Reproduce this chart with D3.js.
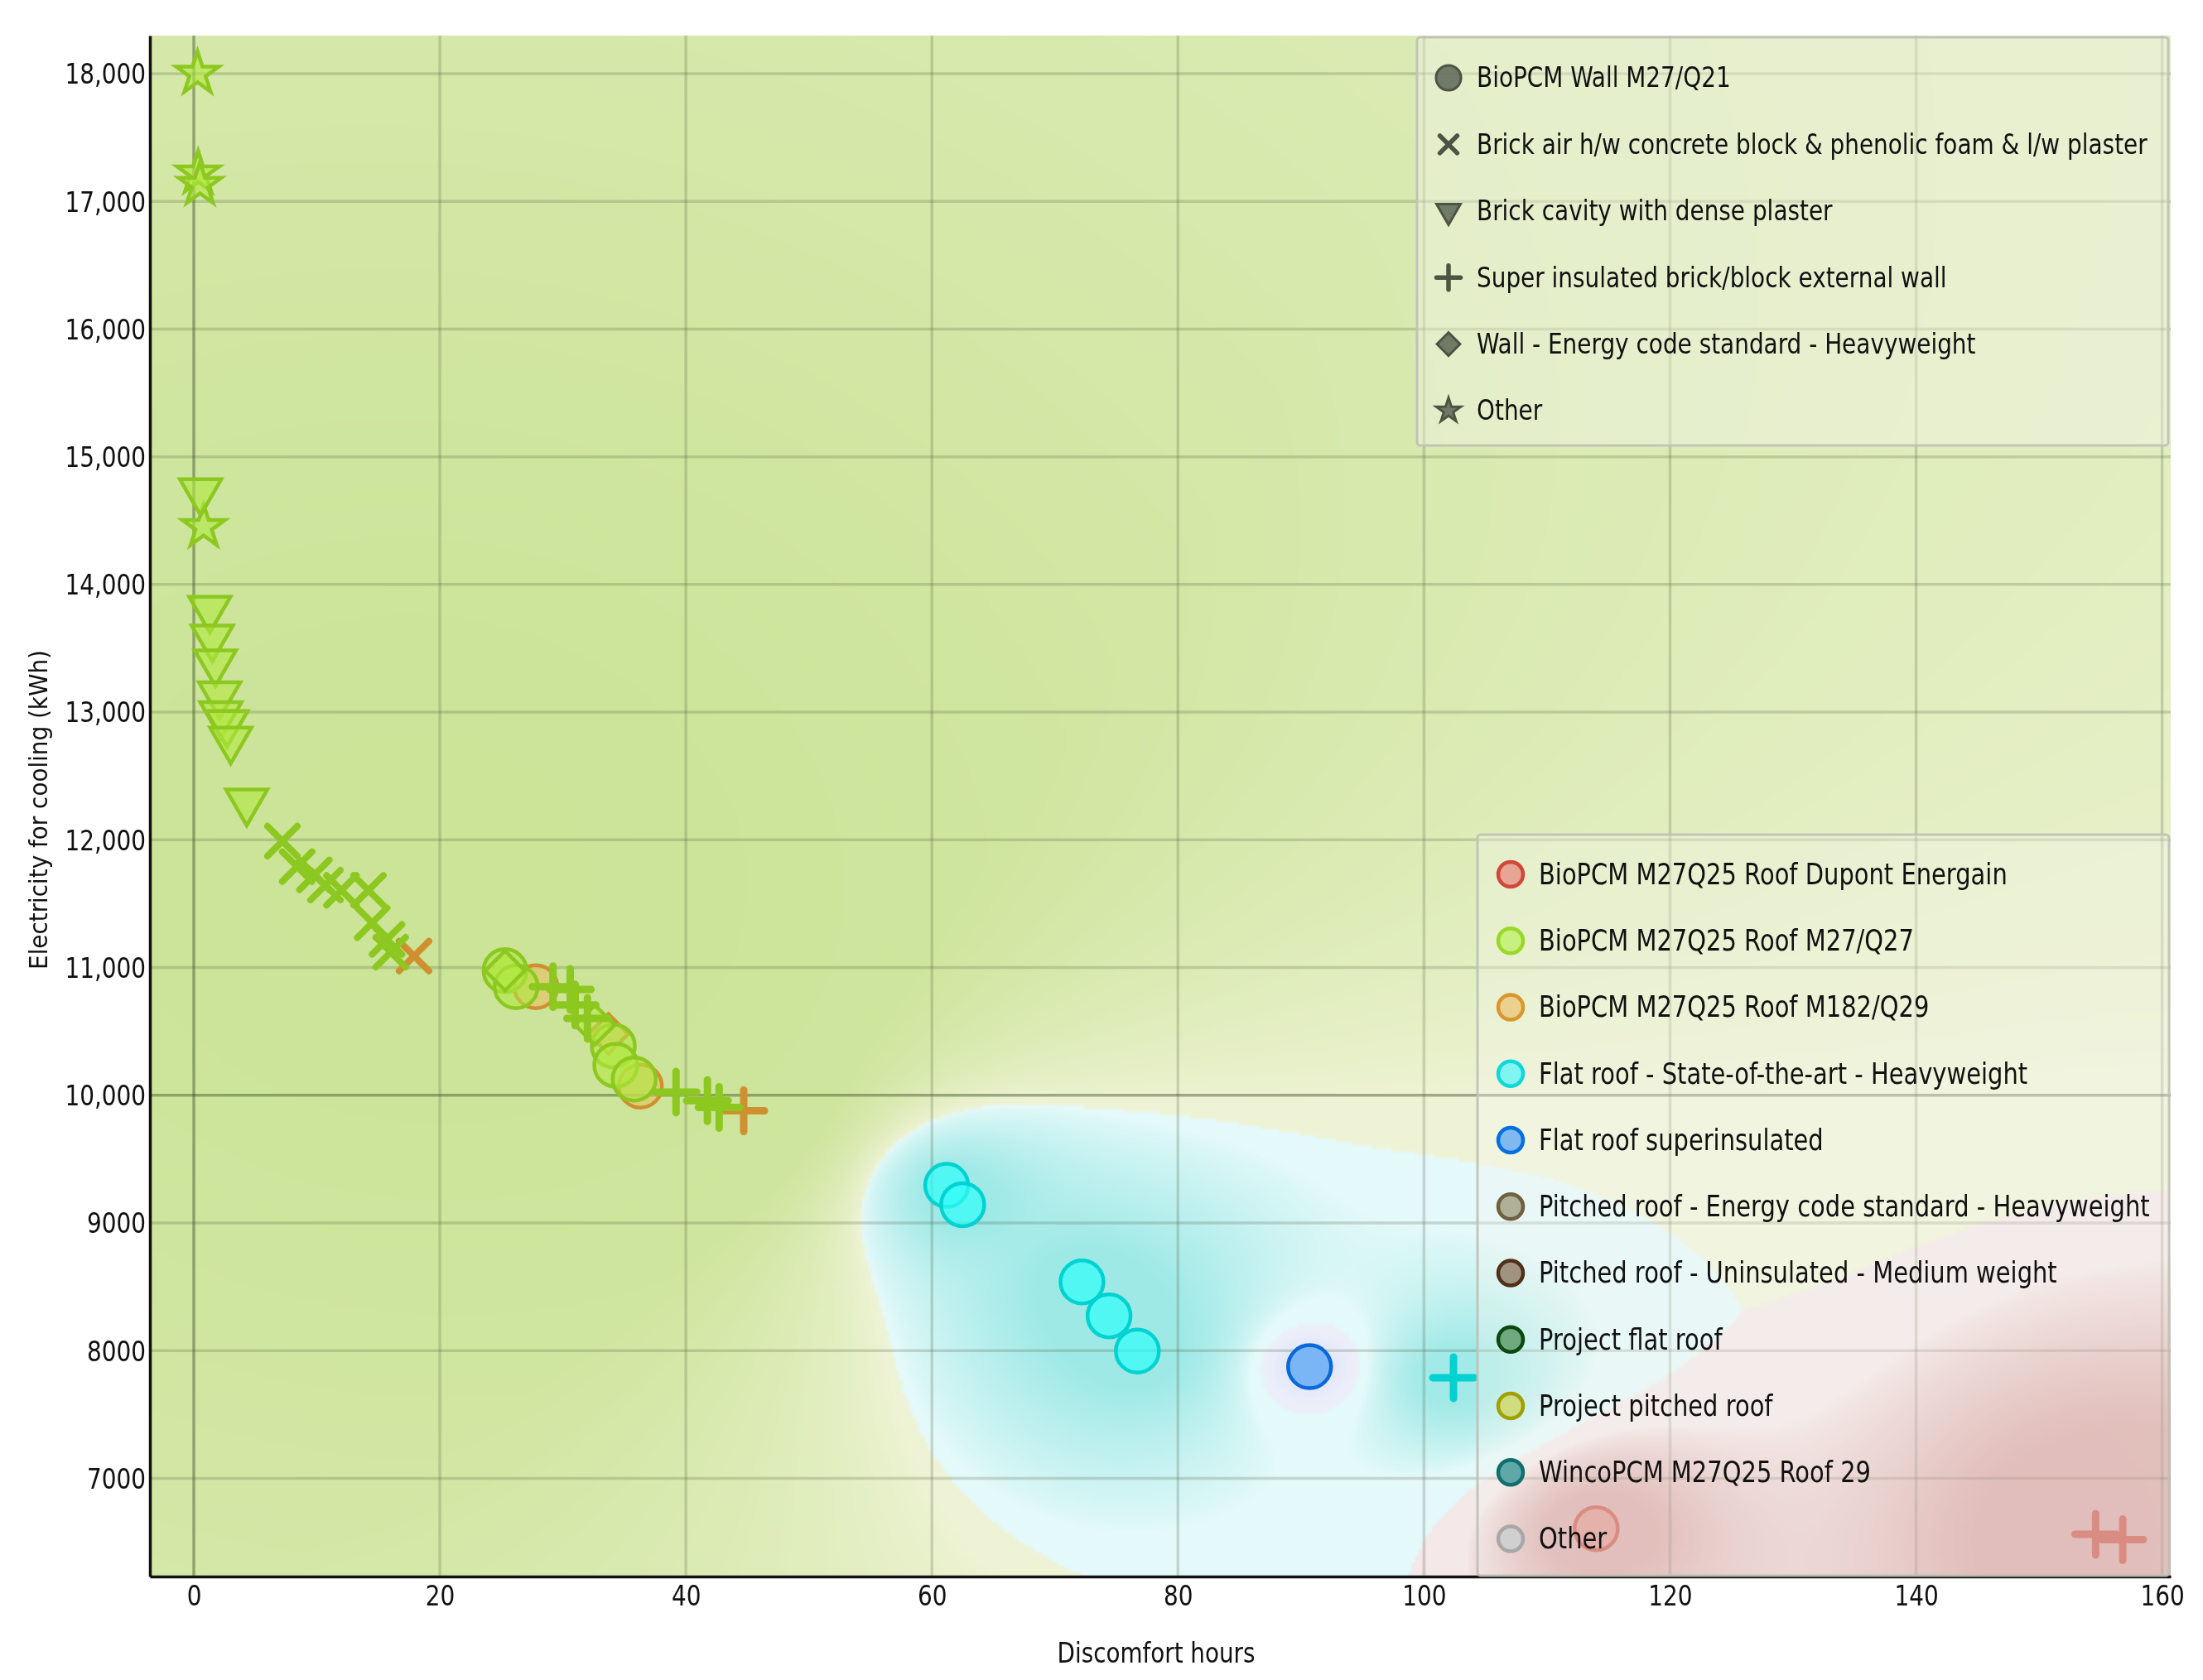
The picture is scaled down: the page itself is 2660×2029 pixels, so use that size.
<!DOCTYPE html>
<html><head><meta charset="utf-8">
<script src="https://cdn.jsdelivr.net/npm/d3@7"></script>
<style>
html,body{margin:0;padding:0;background:#fff;}
#wrap{position:relative;width:2660px;height:2029px;overflow:hidden;}
#bg{position:absolute;}
#chart{position:absolute;left:0;top:0;}
</style></head>
<body><div id="wrap"><canvas id="bg"></canvas><svg id="chart" width="2660" height="2029"></svg></div>
<script>
// ---------------- DATA ----------------
const wallNames = ["BioPCM Wall M27/Q21","Brick air h/w concrete block & phenolic foam & l/w plaster","Brick cavity with dense plaster","Super insulated brick/block external wall","Wall - Energy code standard - Heavyweight","Other"];
const roofNames = ["BioPCM M27Q25 Roof Dupont Energain","BioPCM M27Q25 Roof M27/Q27","BioPCM M27Q25 Roof M182/Q29","Flat roof - State-of-the-art - Heavyweight","Flat roof superinsulated","Pitched roof - Energy code standard - Heavyweight","Pitched roof - Uninsulated - Medium weight","Project flat roof","Project pitched roof","WincoPCM M27Q25 Roof 29","Other"];

const discomfortHours = [0.3,0.35,0.5,0.8, 0.55,1.3,1.5,1.75,2.1,2.2,2.7,3.0,4.3, 7.2,8.4,9.8,10.7,12.0,14.2,14.5,15.7,16.0,17.9, 25.3,26.2,27.8,34.1,34.3,35.8,36.3, 25.3,32.6,33.7, 29.2,30.6,31.0,32.0,39.2,41.75,42.7,44.7, 61.2,62.5,72.2,74.4,76.7, 90.7, 102.4, 114.0, 154.6,156.8];
const coolingKWh = [18000,17220,17130,14450, 14730,13810,13585,13390,13140,12985,12915,12785,12300, 11990,11790,11725,11645,11605,11605,11350,11220,11120,11090, 10975,10850,10850,10386,10235,10127,10072, 10975,10550,10480, 10850,10829,10706,10602,10025,9958,9904,9878, 9294,9143,8537,8272,7997, 7874, 7788, 6606, 6562,6519];
const wallType = [5,5,5,5, 2,2,2,2,2,2,2,2,2, 1,1,1,1,1,1,1,1,1,1, 0,0,0,0,0,0,0, 4,4,4, 3,3,3,3,3,3,3,3, 0,0,0,0,0, 0, 3, 0, 3,3];
const roofType = [1,1,1,1, 1,1,1,1,1,1,1,1,1, 1,1,1,1,1,1,1,1,1,2, 1,1,2,1,1,1,2, 1,1,2, 1,1,1,1,1,1,1,2, 3,3,3,3,3, 4, 3, 0, 0,0];

const xTicks = [0,20,40,60,80,100,120,140,160];
const yTicks = [7000,8000,9000,10000,11000,12000,13000,14000,15000,16000,17000,18000];
const xDomain = [-3.57,160.7];
const yDomain = [6231,18298];

// ---------------- STYLE ----------------
const roofStroke = ["#cc5c4e","#8cc820","#d09030","#00d2d2","#0a68d8","#706040","#503018","#0a4a10","#a0a000","#106e6e","#a8a8a8"];
const roofFill   = ["rgba(228,132,120,0.55)","rgba(176,232,64,0.6)","rgba(232,192,96,0.6)","rgba(48,252,248,0.7)","rgba(122,182,246,1)","#b0b098","#a09480","#70a880","#d0dc80","#60a8a8","#d0d0d0"];
const legStroke = ["#d0483a","#98d828","#d8982c","#10d8d8","#0070e0","#706040","#503018","#0a4a10","#a0a000","#106e6e","#a8a8a8"];
const legFill   = ["#e8a494","#c8f080","#ecd090","#80f4f0","#80b8f0","#b0b098","#a09480","#70a880","#d0dc80","#60a8a8","#d0d0d0"];
// background class per roof type: 0 green, 1 cyan, 2 blue, 3 red
const bgClassOfRoof = [3,0,0,1,2,0,0,0,0,0,0];
const bgWeight = [1,1,0.55,1.15];
const bgStrong = [[203,228,152],[158,233,230],[218,224,248],[216,164,162]];
const bgPale   = [[239,243,214],[228,249,249],[236,239,250],[244,232,232]];

const M = {left:181, right:2621, top:43, bottom:1904};
const x = d3.scaleLinear().domain(xDomain).range([M.left, M.right]);
const y = d3.scaleLinear().domain(yDomain).range([M.bottom, M.top]);

const pts = discomfortHours.map((h,i)=>({h, e:coolingKWh[i], wall:wallType[i], roof:roofType[i], i}));

// ---------------- BACKGROUND ----------------
(function(){
  const pw = M.right-M.left, ph = M.bottom-M.top, cell = 4;
  const cw = Math.ceil(pw/cell), chh = Math.ceil(ph/cell);
  const c = document.getElementById("bg");
  c.width = pw; c.height = ph; c.style.left = M.left+"px"; c.style.top = M.top+"px";
  const off = document.createElement("canvas"); off.width = cw; off.height = chh;
  const octx = off.getContext("2d");
  const img = octx.createImageData(cw, chh);
  const P = pts.map(p=>({u:(x(p.h)-M.left)/pw, v:(y(p.e)-M.top)/ph, k:bgClassOfRoof[p.roof]}));
  const sig2 = 2*0.45*0.45;
  const dens = (u,v,k)=>{ let D=0; for(const q of P){ if(q.k!==k) continue; const du=u-q.u, dv=v-q.v; D+=Math.exp(-(du*du+dv*dv)/sig2);} return D; };
  const Dmax=[0,0,0,0];
  for(const q of P){ Dmax[q.k]=Math.max(Dmax[q.k], dens(q.u,q.v,q.k)); }
  for (let j=0;j<chh;j++){
    const v = (j+0.5)*cell/ph;
    for (let i=0;i<cw;i++){
      const u = (i+0.5)*cell/pw;
      const Wk=[0,0,0,0];
      for (const q of P){
        const du=u-q.u, dv=v-q.v;
        Wk[q.k] += bgWeight[q.k]/(du*du+dv*dv+0.0003);
      }
      const tot=Wk[0]+Wk[1]+Wk[2]+Wk[3];
      let kb=0; for(let k=1;k<4;k++) if(Wk[k]>Wk[kb]) kb=k;
      const s=Wk[kb]/tot;
      const sf=Math.pow(Math.max(0,Math.min(1,(s-0.5)/0.35)),0.7);
      const df=0.4+0.6*Math.min(1,dens(u,v,kb)/Dmax[kb]);
      const t=sf*df;
      const idx=(j*cw+i)*4;
      for(let c2=0;c2<3;c2++) img.data[idx+c2]=bgPale[kb][c2]+(bgStrong[kb][c2]-bgPale[kb][c2])*t;
      img.data[idx+3]=255;
    }
  }
  octx.putImageData(img,0,0);
  const ctx=c.getContext("2d");
  ctx.imageSmoothingEnabled=true;
  ctx.drawImage(off,0,0,cw*cell,chh*cell);
})();

// ---------------- SVG ----------------
const svg = d3.select("#chart");
const COND = "'DejaVu Sans Condensed','DejaVu Sans',sans-serif";
const SANS = "'DejaVu Sans',Verdana,sans-serif";

function measure(str, fam, size){
  const t = svg.append("text").attr("font-family",fam).attr("font-size",size).text(str);
  const w = t.node().getComputedTextLength(); t.remove(); return w;
}
const kTick = 97.6/measure("18,000",COND,33);
const kLeg1 = 810/measure("Brick air h/w concrete block & phenolic foam & l/w plaster",COND,33);
const kLeg2 = 738/measure("Pitched roof - Energy code standard - Heavyweight",SANS,35);
const kXT = 239/measure("Discomfort hours",COND,33);
const kYT = 386/measure("Electricity for cooling (kWh)",COND,31);

function txt(g, str, x0, y0, fam, size, k, anchor, rot){
  return g.append("text")
    .attr("transform",`translate(${x0},${y0})${rot?` rotate(${rot})`:""} scale(${k},1)`)
    .attr("font-family",fam).attr("font-size",size)
    .attr("text-anchor",anchor||"start").attr("dominant-baseline","central")
    .attr("fill","#111").text(str);
}

// gridlines
const grid = svg.append("g");
grid.selectAll(".gx").data(xTicks).join("line")
  .attr("x1",d=>x(d)).attr("x2",d=>x(d)).attr("y1",M.top).attr("y2",M.bottom)
  .attr("stroke",d=>d===0?"rgba(50,70,30,0.42)":"rgba(60,70,40,0.2)").attr("stroke-width",3.5);
grid.selectAll(".gy").data(yTicks).join("line")
  .attr("x1",M.left).attr("x2",M.right).attr("y1",d=>y(d)).attr("y2",d=>y(d))
  .attr("stroke",d=>d===10000?"rgba(50,70,30,0.42)":"rgba(60,70,40,0.2)").attr("stroke-width",3.5);

// axes
const yFmt = v => v>=10000 ? d3.format(",")(v) : String(v);
const gyA = svg.append("g").attr("transform",`translate(${M.left},0)`)
  .call(d3.axisLeft(y).tickValues(yTicks).tickFormat(yFmt).tickSize(0).tickSizeOuter(0).tickPadding(5));
gyA.select(".domain").attr("stroke","#111").attr("stroke-width",3.5);
gyA.selectAll(".tick text").each(function(d){
  d3.select(this).attr("font-family",COND).attr("font-size",33).attr("fill","#111")
   .attr("x",-5/kTick).attr("dy","0.36em").attr("transform",`scale(${kTick},1)`);
});
const gxA = svg.append("g").attr("transform",`translate(0,${M.bottom})`)
  .call(d3.axisBottom(x).tickValues(xTicks).tickFormat(d3.format("d")).tickSize(0).tickSizeOuter(0).tickPadding(12));
gxA.select(".domain").attr("stroke","#111").attr("stroke-width",3.5);
gxA.selectAll(".tick text").each(function(d){
  d3.select(this).attr("font-family",COND).attr("font-size",33).attr("fill","#111").attr("transform",`scale(${kTick},1)`);
});

txt(svg,"Discomfort hours",1396,1997,COND,33,kXT,"middle");
txt(svg,"Electricity for cooling (kWh)",46,978,COND,31,kYT,"middle",-90);

// marker shapes
function starPath(R){ const r=R*0.382; const p=[]; for(let i=0;i<10;i++){const rad=i%2?r:R; const a=-Math.PI/2+i*Math.PI/5; p.push([rad*Math.cos(a),rad*Math.sin(a)]);} return "M"+p.map(q=>q[0].toFixed(2)+","+q[1].toFixed(2)).join("L")+"Z"; }
function triPath(s){ const h=s*Math.sqrt(3)/2; return `M${-s/2},${-h/3}L${s/2},${-h/3}L0,${2*h/3}Z`; }
function shape(wall, sc){
  switch(wall){
    case 0: { const r=26*sc; return `M${r},0A${r},${r} 0 1,1 ${-r},0A${r},${r} 0 1,1 ${r},0Z`; }
    case 1: { const a=18*sc; return `M${-a},${-a}L${a},${a}M${-a},${a}L${a},${-a}`; }
    case 2: return triPath(50*sc);
    case 3: { const a=25*sc; return `M${-a},0L${a},0M0,${-a}L0,${a}`; }
    case 4: { const a=24*sc; return `M0,${-a}L${a},0L0,${a}L${-a},0Z`; }
    case 5: return starPath(27*sc);
  }
}
const isLine = w => w===1||w===3;

// markers (M182/Q29 drawn underneath the others)
const order = pts.slice().sort((a,b)=>((a.roof===2)?0:1)-((b.roof===2)?0:1) || a.i-b.i);
const gm = svg.append("g");
gm.selectAll("path").data(order).join("path")
  .attr("transform",d=>`translate(${x(d.h)},${y(d.e)})`)
  .attr("d",d=>shape(d.wall,1))
  .attr("fill",d=>isLine(d.wall)?"none":roofFill[d.roof])
  .attr("stroke",d=>roofStroke[d.roof])
  .attr("stroke-width",d=>d.wall===1?8:d.wall===3?9:4.5)
  .attr("stroke-linecap","round").attr("stroke-linejoin","miter");

// legend 1 (wall types / shapes)
const L1 = svg.append("g");
L1.append("rect").attr("x",1711).attr("y",45).attr("width",907).attr("height",493).attr("rx",4)
  .attr("fill","rgba(246,246,238,0.4)").attr("stroke","rgba(190,192,182,0.9)").attr("stroke-width",3);
wallNames.forEach((n,i)=>{
  const cy = 94 + i*80.4;
  L1.append("path").attr("transform",`translate(1749,${cy})`)
    .attr("d",shape(i,0.58))
    .attr("fill",isLine(i)?"none":"rgba(100,110,92,0.9)")
    .attr("stroke","#4c5444").attr("stroke-width",isLine(i)?5.5:3).attr("stroke-linecap","round");
  txt(L1,n,1783,cy,COND,33,kLeg1,"start");
});

// legend 2 (roof types / colours)
const L2 = svg.append("g");
L2.append("rect").attr("x",1784).attr("y",1008).attr("width",835).attr("height",895).attr("rx",4)
  .attr("fill","rgba(246,246,238,0.32)").attr("stroke","rgba(190,192,182,0.9)").attr("stroke-width",3);
roofNames.forEach((n,i)=>{
  const cy = 1056 + i*80.25;
  L2.append("circle").attr("cx",1824).attr("cy",cy).attr("r",15)
    .attr("fill",legFill[i]).attr("stroke",legStroke[i]).attr("stroke-width",4.5);
  txt(L2,n,1858,cy,SANS,35,kLeg2,"start");
});
</script>
</body></html>
